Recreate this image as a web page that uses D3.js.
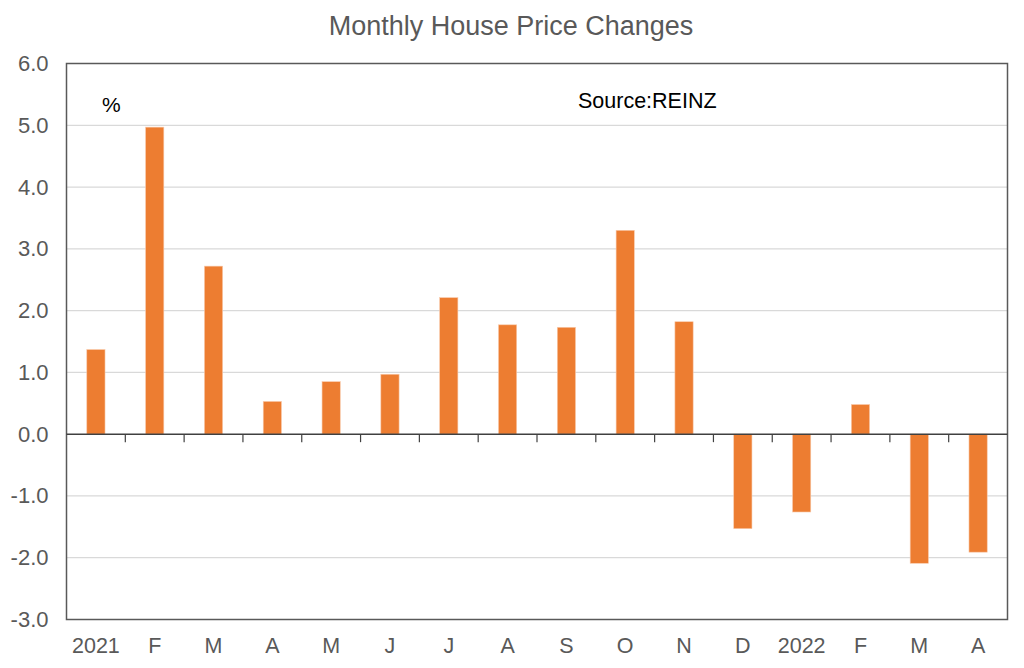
<!DOCTYPE html>
<html>
<head>
<meta charset="utf-8">
<script src="https://cdn.jsdelivr.net/npm/d3@7"></script>
<style>
  body { margin: 0; background: #fff; }
  svg { font-family: "Liberation Sans", Arial, sans-serif; }
</style>
</head>
<body>
<div id="chart"></div>
<script>
// Monthly house price changes, Jan 2021 - Apr 2022
const months = ["2021", "F", "M", "A", "M", "J", "J", "A", "S", "O", "N", "D", "2022", "F", "M", "A"];
const changes = [1.37, 4.97, 2.72, 0.53, 0.85, 0.97, 2.21, 1.77, 1.73, 3.30, 1.82, -1.53, -1.26, 0.48, -2.09, -1.91];
const yTicks = [-3, -2, -1, 0, 1, 2, 3, 4, 5, 6];

const width = 1024, height = 668;
const margin = { top: 63.5, right: 16.5, bottom: 48.5, left: 66.5 };

const svg = d3.select("#chart")
    .append("svg")
    .attr("width", width)
    .attr("height", height);

const x = d3.scaleBand()
    .domain(d3.range(months.length))
    .range([margin.left, width - margin.right])
    .paddingInner(0.69)
    .paddingOuter(0.345);

const xBand = d3.scaleBand()
    .domain(d3.range(months.length))
    .range([margin.left, width - margin.right]);

const y = d3.scaleLinear()
    .domain([-3, 6])
    .range([height - margin.bottom, margin.top]);

// gridlines
svg.append("g")
    .selectAll("line")
    .data(yTicks.filter(d => d !== 0 && d !== -3 && d !== 6))
    .enter()
    .append("line")
    .attr("x1", margin.left)
    .attr("x2", width - margin.right)
    .attr("y1", d => y(d))
    .attr("y2", d => y(d))
    .attr("stroke", "#d9d9d9")
    .attr("stroke-width", 1.2);

// bars
svg.append("g")
    .selectAll("rect")
    .data(changes)
    .enter()
    .append("rect")
    .attr("x", (d, i) => x(i))
    .attr("width", x.bandwidth())
    .attr("y", d => y(Math.max(0, d)))
    .attr("height", d => Math.abs(y(d) - y(0)))
    .attr("fill", "#ed7d31")
    .attr("stroke", "#f8cbad")
    .attr("stroke-width", 0.6);

// plot border
svg.append("rect")
    .attr("x", margin.left)
    .attr("y", margin.top)
    .attr("width", width - margin.left - margin.right)
    .attr("height", height - margin.top - margin.bottom)
    .attr("fill", "none")
    .attr("stroke", "#595959")
    .attr("stroke-width", 1.5);

// zero axis with ticks between months
const zeroAxis = svg.append("g")
    .attr("transform", `translate(0,${y(0)})`);

zeroAxis.append("line")
    .attr("x1", margin.left)
    .attr("x2", width - margin.right)
    .attr("stroke", "#404040")
    .attr("stroke-width", 1.5);

zeroAxis.selectAll("line.tick")
    .data(d3.range(1, months.length))
    .enter()
    .append("line")
    .attr("class", "tick")
    .attr("x1", d => xBand(d))
    .attr("x2", d => xBand(d))
    .attr("y1", 0)
    .attr("y2", 8)
    .attr("stroke", "#404040")
    .attr("stroke-width", 1.2);

// y axis labels (plain hyphen for negatives, as in the source)
const fmt = d3.format(".1f");
const yAxis = svg.append("g")
    .attr("transform", `translate(${margin.left},0)`)
    .call(d3.axisLeft(y).tickValues(yTicks).tickFormat(d => fmt(d).replace("−", "-")).tickSize(0).tickPadding(18));

yAxis.select(".domain").remove();
yAxis.selectAll("text")
    .attr("font-size", "22px")
    .attr("font-family", "Liberation Sans, Arial, sans-serif")
    .attr("fill", "#595959");

// x axis labels
const xAxis = svg.append("g")
    .attr("transform", `translate(0,${height - margin.bottom})`)
    .call(d3.axisBottom(xBand).tickFormat(i => months[i]).tickSize(0).tickPadding(18));

xAxis.select(".domain").remove();
xAxis.selectAll("text")
    .attr("font-size", "21.5px")
    .attr("font-family", "Liberation Sans, Arial, sans-serif")
    .attr("fill", "#595959");

// title and notes
svg.append("text")
    .attr("x", 511)
    .attr("y", 35)
    .attr("text-anchor", "middle")
    .attr("font-size", "27px")
    .attr("fill", "#595959")
    .text("Monthly House Price Changes");

svg.append("text")
    .attr("x", 578)
    .attr("y", 108)
    .attr("font-size", "21.5px")
    .attr("fill", "#000")
    .text("Source:REINZ");

svg.append("text")
    .attr("x", 102)
    .attr("y", 112)
    .attr("font-size", "21px")
    .attr("fill", "#000")
    .text("%");
</script>
</body>
</html>
